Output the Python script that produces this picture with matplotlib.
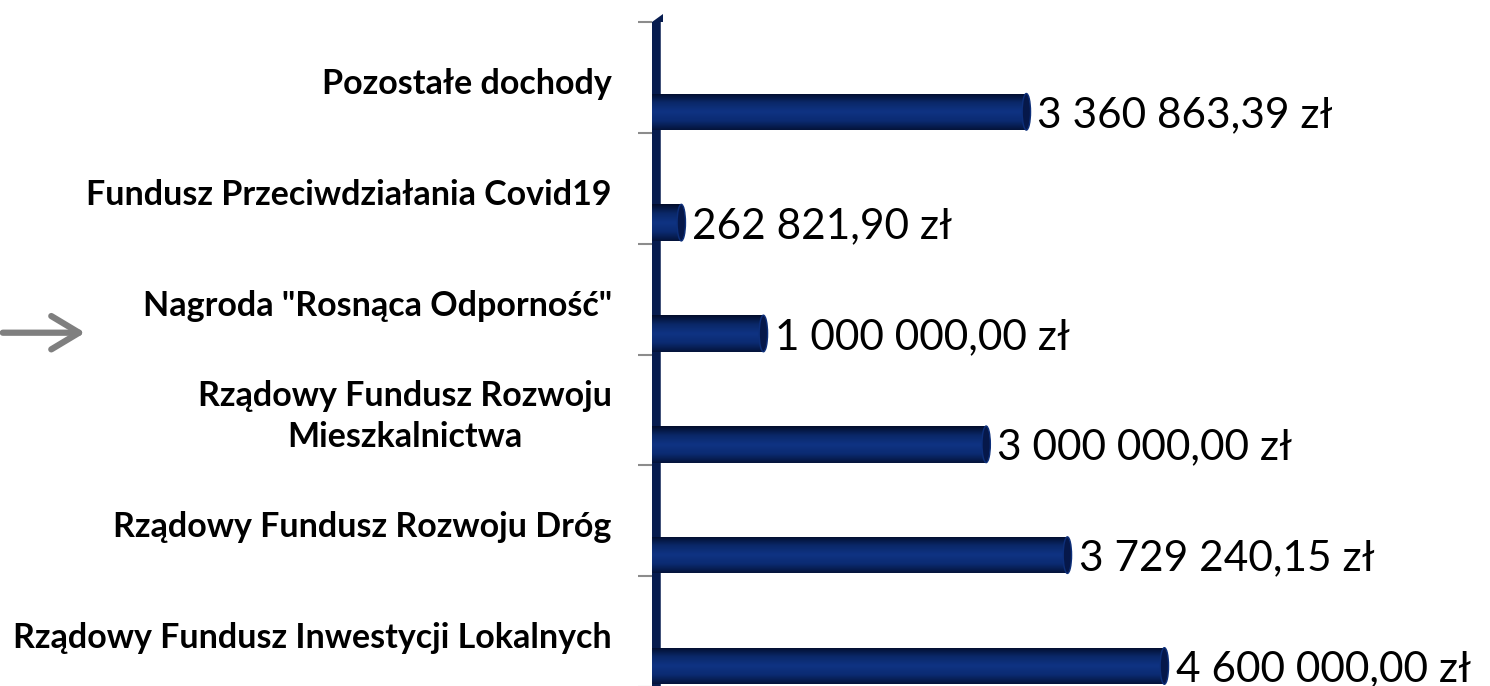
import numpy as np
import matplotlib.pyplot as plt
from matplotlib.patches import Ellipse, FancyArrowPatch, Polygon
from matplotlib.colors import LinearSegmentedColormap

plt.rcParams['font.family'] = ['Lato', 'DejaVu Sans']

# dane (od dolu do gory)
kategorie = ['Rządowy Fundusz Inwestycji Lokalnych',
             'Rządowy Fundusz Rozwoju Dróg',
             'Rządowy Fundusz Rozwoju\nMieszkalnictwa',
             'Nagroda "Rosnąca Odporność"',
             'Fundusz Przeciwdziałania Covid19',
             'Pozostałe dochody']
wartosci = [4600000.00, 3729240.15, 3000000.00, 1000000.00, 262821.90, 3360863.39]


def format_zl(v):
    s = f'{v:,.2f}'
    return s.replace(',', ' ').replace('.', ',') + ' zł'


fig = plt.figure(figsize=(14.9, 6.86), dpi=100)
ax = fig.add_axes([0.4376, -0.0015, 0.527, 0.9694])

y = np.arange(len(kategorie))
przes = -0.31   # slupki w dolnej czesci przedzialu
wys = 0.33

bars = ax.barh(y + przes, wartosci, height=wys, color='#0b2a72', zorder=3)

# gradient "cylindra"
grad = np.linspace(0, 1, 256).reshape(-1, 1)
cmap = LinearSegmentedColormap.from_list('cyl', ['#041339', '#0b2b72', '#0f3383', '#0a2868', '#020c2a'])
for b in bars:
    x0, y0 = b.get_x(), b.get_y()
    w, h = b.get_width(), b.get_height()
    im = ax.imshow(grad, cmap=cmap, aspect='auto', extent=[x0, x0 + w, y0 + h, y0],
                   zorder=4, interpolation='bicubic')
    im.set_clip_path(b)
    # zakonczenie slupka
    ax.add_patch(Ellipse((x0 + w, y0 + h / 2), width=75000, height=h,
                         facecolor='#06184a', edgecolor='#0d2f7a', linewidth=1, zorder=5))

for yi, v in zip(y, wartosci):
    ax.text(v + 100000, yi + przes - 0.03, format_zl(v), va='center', ha='left',
            fontsize=30.5, color='black', zorder=6)

ax.set_xlim(0, 7050000)
ax.set_ylim(-0.5, len(kategorie) - 0.5)

# "sciana" osi
ax.axvline(15000, color='#071c4f', linewidth=9, zorder=2)
ax.add_patch(Polygon([(0.0, 1.0), (0.0138, 1.0), (0.0138, 1.012)], closed=True,
                     transform=ax.transAxes, clip_on=False, facecolor='#071c4f',
                     edgecolor='none', zorder=2))

ax.set_xticks([])
ax.set_yticks(np.arange(-0.5, len(kategorie), 1))
ax.set_yticklabels([])
ax.tick_params(axis='y', length=10, width=1.5, color='#8c8c8c', direction='out', pad=0)
for s in ['top', 'right', 'bottom', 'left']:
    ax.spines[s].set_visible(False)

for yi, lab in zip(y, kategorie):
    ax.annotate(lab, xy=(0, yi - 0.06), xycoords=('axes fraction', 'data'),
                xytext=(-29, 0), textcoords='offset points', ha='right', va='center',
                fontsize=24.5, fontweight='bold', multialignment='center', linespacing=1.35)

# strzalka
fig.patches.append(FancyArrowPatch(
    (0.0, 0.515), (0.059, 0.515), transform=fig.transFigure,
    arrowstyle='->,head_length=20,head_width=12', color='#7f7f7f',
    linewidth=4.5, mutation_scale=1, capstyle='round', joinstyle='round'))

fig.savefig('out.png', dpi=100)
